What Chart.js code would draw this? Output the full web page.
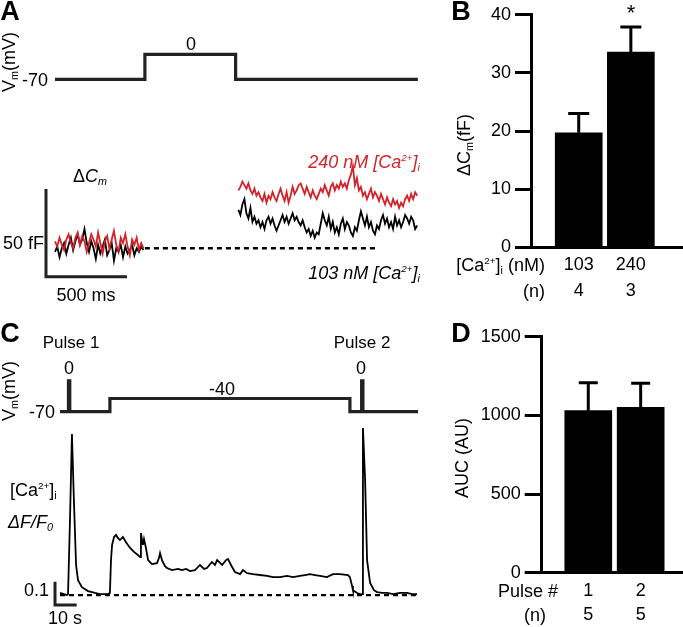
<!DOCTYPE html>
<html><head><meta charset="utf-8">
<script src="https://cdn.jsdelivr.net/npm/chart.js@4.4.0/dist/chart.umd.min.js"></script>
<style>
html,body{margin:0;padding:0;background:#fff;}
#fig{position:relative;width:683px;height:627px;overflow:hidden;font-family:'Liberation Sans',Arial,Helvetica,sans-serif;color:#000;}
canvas{position:absolute;}
.t{position:absolute;white-space:nowrap;font-size:18px;line-height:1;}
.c{transform:translate(-50%,-50%);}
.r{transform:translate(-100%,-50%);}
.l{transform:translate(0,-50%);}
.rot{transform:translate(-50%,-50%) rotate(-90deg);}
.sb{font-size:60%;vertical-align:-0.3em;line-height:0;}
.sp{font-size:55%;vertical-align:0.75em;line-height:0;}
.lt{font-weight:bold;font-size:27px;}
.red{color:#d2232a;}
</style></head>
<body><div id="fig">
<canvas id="cAV" width="450" height="120" style="left:0;top:0"></canvas>
<canvas id="cAC" width="450" height="190" style="left:0;top:120px"></canvas>
<canvas id="cB" width="233" height="310" style="left:450px;top:0"></canvas>
<canvas id="cCV" width="450" height="90" style="left:0;top:340px"></canvas>
<canvas id="cCA" width="450" height="207" style="left:0;top:420px"></canvas>
<canvas id="cD" width="233" height="312" style="left:450px;top:315px"></canvas>

<div class="t lt c" style="left:10px;top:11px">A</div>
<div class="t rot" style="left:9px;top:62px">V<span class="sb">m</span>(mV)</div>
<div class="t r" style="left:48px;top:80px">-70</div>
<div class="t c" style="left:191px;top:44px">0</div>
<div class="t l" style="left:73px;top:176px">Δ<i>C<span class="sb">m</span></i></div>
<div class="t r" style="left:44px;top:243px">50 fF</div>
<div class="t c" style="left:86px;top:295px">500 ms</div>
<div class="t r red" style="left:420px;top:162px"><i>240 nM [Ca<span class="sp">2+</span>]<span class="sb">i</span></i></div>
<div class="t r" style="left:420px;top:273px"><i>103 nM [Ca<span class="sp">2+</span>]<span class="sb">i</span></i></div>

<div class="t lt c" style="left:461px;top:11px">B</div>
<div class="t rot" style="left:464px;top:145px">ΔC<span class="sb">m</span>(fF)</div>
<div class="t c" style="left:631px;top:13px;font-size:22px">*</div>
<div class="t r" style="left:545px;top:265px">[Ca<span class="sp">2+</span>]<span class="sb">i</span> (nM)</div>
<div class="t r" style="left:545px;top:291px">(n)</div>

<div class="t lt c" style="left:10px;top:333px">C</div>
<div class="t c" style="left:71px;top:342px;font-size:17px">Pulse 1</div>
<div class="t c" style="left:362px;top:342px;font-size:17px">Pulse 2</div>
<div class="t rot" style="left:9px;top:391px">V<span class="sb">m</span>(mV)</div>
<div class="t c" style="left:69px;top:368px">0</div>
<div class="t c" style="left:361px;top:368px">0</div>
<div class="t c" style="left:222px;top:389px">-40</div>
<div class="t r" style="left:55px;top:412px">-70</div>
<div class="t l" style="left:10px;top:490px">[Ca<span class="sp">2+</span>]<span class="sb">i</span></div>
<div class="t l" style="left:8px;top:522px"><i>ΔF/F<span class="sb">0</span></i></div>
<div class="t r" style="left:49px;top:590px">0.1</div>
<div class="t c" style="left:65px;top:618px">10 s</div>

<div class="t lt c" style="left:461px;top:333px">D</div>
<div class="t rot" style="left:462px;top:458px">AUC (AU)</div>
<div class="t r" style="left:558px;top:591px">Pulse #</div>
<div class="t r" style="left:546px;top:615px">(n)</div>
</div>
<script>
// ---------- Panel A: voltage protocol (ms, mV) ----------
const protoA_t = [0, 555, 555, 1115, 1115, 2240];
const protoA_mV = [-70, -70, 0, 0, -70, -70];
// ---------- Panel A: capacitance traces (fF) ----------
const capEarly_t0 = 0, capEarly_dt = 14;     // ms
const capLate_t0 = 1132, capLate_dt = 12.4;  // ms
const cap240_early = [4, 1, 6, 2, -1, 5, 8, 3, 0, 6, 9, 2, 7, 4, -2, 3, 8, 5, 1, 9, 3, -3, 4, 7, 0, 5, 10, 2, -2, 6, 3, 8, 1, -4, 5, 2, 6, -1, 3, 0];
const cap103_early = [-2, 1, -5, 0, 3, -3, 2, 6, -1, 4, 8, 2, 5, 11, 3, -2, 4, 0, -6, 2, -3, 1, 5, -4, -1, 3, -7, 0, -2, 2, -5, 1, -3, -1, 2, -4, 0, -2, 1, -1];
const cap240_late = [33, 35, 38, 36, 34, 37, 33, 31, 34, 30, 32,
  29, 27, 31, 26, 30, 28, 32, 29, 27, 31,
  34, 30, 27, 32, 26, 30, 35, 31, 33, 36,
  37, 34, 31, 35, 32, 29, 33, 30, 28, 31,
  34, 32, 36, 33, 30, 35, 37, 33, 36, 34,
  38, 35, 37, 34, 39, 42, 47, 36, 40, 33,
  35, 30, 32, 28, 31, 34, 29, 32, 30, 27,
  31, 28, 25, 29, 26, 24, 28, 25, 27, 23,
  26, 24, 28, 30, 27, 31, 28, 32, 30];
const cap103_late = [22, 19, 25, 28, 20, 17, 23, 15, 18, 14, 16,
  12, 15, 11, 16, 18, 14, 17, 13, 10, 13,
  16, 19, 15, 18, 14, 17, 20, 16, 18, 15,
  13, 16, 12, 9, 11, 7, 10, 6, 9, 8,
  14, 20, 16, 13, 18, 11, 15, 9, 12, 8,
  14, 17, 11, 15, 13, 9, 7, 12, 10, 16,
  21, 17, 13, 18, 12, 15, 10, 8, 13, 11,
  16, 19, 14, 17, 12, 15, 11, 18, 13, 16,
  12, 15, 19, 17, 14, 18, 16, 11, 13];
const capBase_t = [555, 1994];
const scaleBarA = {t: -55.6, y: -16.2, dt: 500, dy: 50}; // 500 ms, 50 fF
// ---------- Panel B ----------
const bCats = ['103', '240'];
const bN = ['4', '3'];
const bMean = [19.7, 33.6];
const bSem = [3.3, 4.3];
// ---------- Panel C: voltage protocol (s, mV) ----------
const protoC_t = [0, 3.9, 3.9, 4.5, 4.5, 23.0, 23.0, 133.6, 133.6, 139.0, 139.0, 139.6, 139.6, 165];
const protoC_mV = [-70, -70, 0, 0, -70, -70, -40, -40, -70, -70, 0, 0, -70, -70];
// ---------- Panel C: [Ca2+]i  dF/F0 trace ----------
const ca_t = [0, 1.8, 3.2, 3.7, 4.6, 5.5, 6.4, 7.4, 8.3, 10.1,
  12.9, 16.1, 18.4, 22.1, 23.0, 23.5, 24.0, 24.9, 25.8, 26.7,
  27.6, 29.0, 30.4, 32.3, 34.1, 35.9, 36.9, 37.3, 37.8, 38.2,
  38.7, 39.6, 40.6, 42.4, 44.7, 45.6, 46.1, 47.0, 48.4, 49.3,
  51.6, 54.4, 56.2, 58.1, 59.9, 62.2, 64.5, 66.4, 67.7, 70.0,
  71.4, 72.4, 73.3, 74.7, 76.5, 77.4, 78.8, 80.6, 83.0, 84.3,
  86.2, 88.9, 92.2, 95.4, 98.2, 101.4, 104.6, 107.4, 110.6, 112.9,
  115.2, 117.5, 119.8, 123.0, 125.8, 129.0, 132.7, 133.6, 134.6, 135.0,
  136.9, 138.2, 139.2, 139.6, 140.6, 141.5, 142.9, 144.7, 146.1, 148.4,
  150.7, 153.5, 156.7, 159.9, 162.2, 164.5];
const ca_dff = [0.009, 0.004, 0, 0.004, 0.322, 0.691, 0.408, 0.129, 0.064, 0.034,
  0.017, 0.009, 0.004, 0.004, 0.009, 0.150, 0.215, 0.249, 0.258, 0.245,
  0.236, 0.249, 0.227, 0.202, 0.185, 0.172, 0.163, 0.266, 0.236, 0.215,
  0.240, 0.202, 0.150, 0.133, 0.137, 0.159, 0.180, 0.150, 0.124, 0.116,
  0.107, 0.112, 0.107, 0.112, 0.103, 0.107, 0.129, 0.112, 0.116, 0.142,
  0.129, 0.150, 0.142, 0.129, 0.150, 0.155, 0.129, 0.099, 0.090, 0.107,
  0.094, 0.090, 0.086, 0.082, 0.077, 0.077, 0.082, 0.077, 0.082, 0.086,
  0.090, 0.086, 0.082, 0.077, 0.090, 0.090, 0.086, 0.077, 0.039, 0.021,
  0.009, 0.004, 0.004, 0.717, 0.494, 0.150, 0.052, 0.021, 0.013, 0.009,
  0.009, 0.004, 0.009, 0.009, 0.004, 0.004];
const caBase_t = [0, 165];
const scaleBarC = {t: -2.3, y: -0.043, dt: 10, dy: 0.1}; // 10 s, 0.1 dF/F0
// ---------- Panel D ----------
const dCats = ['1', '2'];
const dN = ['5', '5'];
const dMean = [1030, 1051];
const dSem = [178, 153];

// =====================================================
const FONT = "'Liberation Sans', Arial, Helvetica, sans-serif";
Chart.defaults.font.family = FONT;
Chart.defaults.font.size = 18;
Chart.defaults.color = '#000';
const RED = '#d2232a';

const basePlugins = {legend: {display: false}, tooltip: {enabled: false}};
const pts = (ts, vs) => ts.map((t, i) => ({x: t, y: vs[i]}));
const sampled = (t0, dt, vs) => vs.map((v, i) => ({x: t0 + i * dt, y: v}));
const bar = sb => [{x: sb.t, y: sb.y + sb.dy}, {x: sb.t, y: sb.y}, {x: sb.t + sb.dt, y: sb.y}];
function line(data, color, width, dash) {
  return {data, borderColor: color, borderWidth: width, borderDash: dash || [], pointRadius: 0,
    fill: false, tension: 0, borderJoinStyle: 'miter', borderCapStyle: 'butt', clip: false};
}
function traceChart(id, datasets, xr, yr) {
  return new Chart(document.getElementById(id), {
    type: 'line', data: {datasets},
    options: {responsive: false, animation: false, devicePixelRatio: 1, events: [],
      layout: {padding: 0}, plugins: basePlugins,
      scales: {x: {type: 'linear', display: false, min: xr[0], max: xr[1]},
               y: {type: 'linear', display: false, min: yr[0], max: yr[1]}}}
  });
}

// Panel A
traceChart('cAV', [line(pts(protoA_t, protoA_mV), '#222', 3.2)], [-339.5, 2438.3], [-184.0, 152.1]);
traceChart('cAC', [
  line(sampled(capEarly_t0, capEarly_dt, cap240_early), RED, 1.8),
  line(sampled(capEarly_t0, capEarly_dt, cap103_early), '#000', 1.8),
  line(sampled(capLate_t0, capLate_dt, cap240_late), RED, 1.8),
  line(sampled(capLate_t0, capLate_dt, cap103_late), '#000', 1.8),
  line(pts(capBase_t, [0, 0]), '#000', 2.5, [5, 4]),
  line(bar(scaleBarA), '#222', 3)
], [-339.5, 2438.3], [-35.18, 73.15]);

// Panel C
traceChart('cCV', [line(pts(protoC_t, protoC_mV), '#222', 3.2)], [-27.65, 179.72], [-111.6, 92.95]);
traceChart('cCA', [
  line(pts(caBase_t, [0, 0]), '#000', 2.2, [5, 4]),
  line(pts(ca_t, ca_dff), '#000', 1.8),
  line(bar(scaleBarC), '#222', 3)
], [-27.65, 179.72], [-0.137, 0.751]);

// Error bar plugin
const errPlugin = {
  id: 'errbars',
  afterDatasetsDraw(chart) {
    const ds = chart.data.datasets[0];
    const meta = chart.getDatasetMeta(0), ys = chart.scales.y, ctx = chart.ctx;
    ctx.save(); ctx.strokeStyle = '#000'; ctx.lineWidth = 3;
    meta.data.forEach((b, i) => {
      const top = ys.getPixelForValue(ds.data[i].y + ds.errors[i]);
      ctx.beginPath();
      ctx.moveTo(b.x, b.y); ctx.lineTo(b.x, top);
      ctx.moveTo(b.x - ds.cap / 2, top); ctx.lineTo(b.x + ds.cap / 2, top);
      ctx.stroke();
    });
    ctx.restore();
  }
};
function barChart(id, o) {
  const fixX = s => { s.min = o.xr[0]; s.max = o.xr[1]; };
  return new Chart(document.getElementById(id), {
    type: 'bar',
    data: {datasets: [{data: o.mean.map((v, i) => ({x: i + 1, y: v})), errors: o.sem, cap: o.cap,
      backgroundColor: '#000', borderWidth: 0, barThickness: o.barW}]},
    options: {responsive: false, animation: false, devicePixelRatio: 1, events: [],
      layout: {padding: {top: o.top, left: 0, right: 0, bottom: 0}},
      plugins: basePlugins,
      scales: {
        x: {type: 'linear', min: o.xr[0], max: o.xr[1], offset: false, bounds: 'data',
          afterDataLimits: fixX,
          afterBuildTicks: s => { s.ticks = o.mean.map((v, i) => ({value: i + 1})); fixX(s); },
          afterFit: s => { s.height = o.xh; },
          grid: {display: false, drawTicks: false, offset: false},
          border: {display: true, width: 3, color: '#000'},
          ticks: {autoSkip: false, maxRotation: 0, minRotation: 0, padding: o.xpad,
            font: {size: 18, lineHeight: o.lh}, color: '#000',
            callback: v => [o.cats[Math.round(v) - 1], o.n[Math.round(v) - 1]]}},
        y: {min: 0, max: o.ymax,
          afterFit: s => { s.width = o.yw; },
          ticks: {stepSize: o.step, padding: o.ypad, font: {size: 18}, color: '#000', callback: v => String(v)},
          grid: {display: true, drawOnChartArea: false, drawTicks: true, tickLength: o.tl, tickWidth: 3, tickColor: '#000'},
          border: {display: true, width: 3, color: '#000'}}
      }},
    plugins: [errPlugin]
  });
}
barChart('cB', {mean: bMean, sem: bSem, cats: bCats, n: bN, xr: [0.085, 3.0], top: 10.5, yw: 81, xh: 62.7,
  barW: 47, cap: 21, ymax: 40, step: 10, tl: 16, ypad: 4, xpad: 5, lh: 26 / 18});
barChart('cD', {mean: dMean, sem: dSem, cats: dCats, n: dN, xr: [0.111, 2.808], top: 21.7, yw: 91.7, xh: 54.3,
  barW: 47, cap: 19, ymax: 1500, step: 500, tl: 17, ypad: 4, xpad: 6, lh: 24 / 18});
</script>
</body></html>
